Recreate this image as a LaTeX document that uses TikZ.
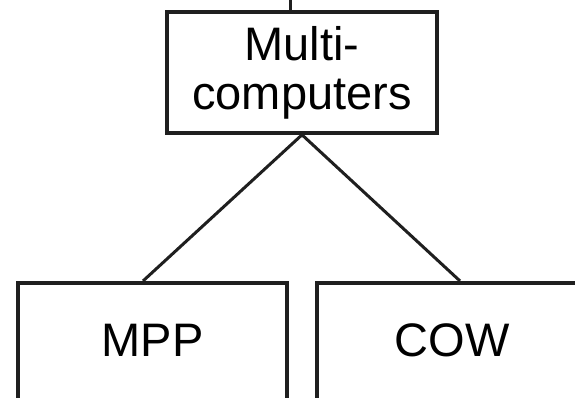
\documentclass[tikz,border=0pt]{standalone}
\usepackage{fontspec}
\setmainfont{Liberation Sans}
\begin{document}
\begin{tikzpicture}[x=1pt,y=1pt,
  box/.style={draw=black!88, line width=3.6pt, rectangle, inner sep=0pt, fill=white},
  conn/.style={draw=black!88, line width=3pt},
  lbl/.style={font=\fontsize{47}{49}\selectfont, text=black, inner sep=0pt, align=center}]
\useasboundingbox (0,0) rectangle (575,397);
\clip (0,0) rectangle (575,397);
\fill[white] (0,0) rectangle (575,397);
% top box
\node[box, lbl, minimum width=270pt, minimum height=121pt] (top) at (302,324.5) {Multi-\\computers};
% bottom boxes (their lower parts run off the picture)
\node[box, minimum width=269pt, minimum height=220pt, anchor=north] (mpp) at (152.5,116) {};
\node[box, minimum width=270pt, minimum height=220pt, anchor=north] (cow) at (452,116) {};
\node[lbl, anchor=base] (mpptext) at ([yshift=-75pt]mpp.north) {MPP};
\node[lbl, anchor=base] (cowtext) at ([yshift=-75pt]cow.north) {COW};
% connectors
\coordinate (mppin) at ([xshift=-9.5pt]mpp.north);
\coordinate (cowin) at ([xshift=8pt]cow.north);
\coordinate (stub) at ([xshift=-12pt,yshift=20pt]top.north);
\draw[conn] (top.south) -- (mppin);
\draw[conn] (top.south) -- (cowin);
\draw[conn] ([xshift=-12pt]top.north) -- (stub);
\end{tikzpicture}
\end{document}
